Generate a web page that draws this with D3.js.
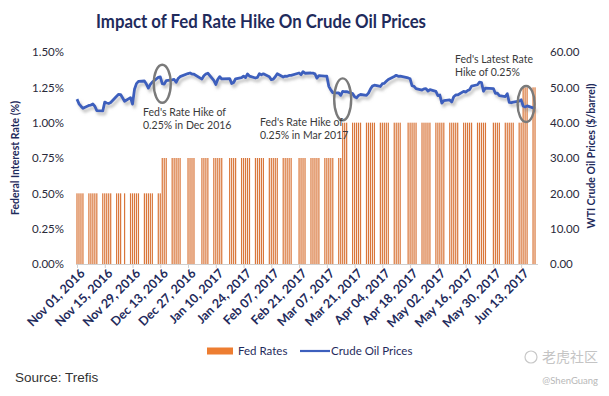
<!DOCTYPE html>
<meta charset="utf-8" />
<style>
    body {
        margin: 0;
        background: #fff;
    }

    text {
        font-family: Lato, 'Open Sans', sans-serif;
    }

    .tick-label {
        font-size: 11.5px;
        fill: #2a2a3a;
    }

    .axis-title {
        font-size: 10.5px;
        font-weight: bold;
        fill: #1f2b5c;
    }

    .date-label {
        font-size: 12.5px;
        font-weight: bold;
        fill: #1f2b5c;
    }

    .note {
        font-size: 10.5px;
        fill: #3a3a3a;
    }
</style>

<svg width="609" height="396"></svg>

<script src="https://d3js.org/d3.v7.min.js"></script>
<script>
    // trading days, Nov 2016 - Jun 2017
    const tradeDates = [
        '2016-11-01', '2016-11-02', '2016-11-03', '2016-11-04', '2016-11-07', '2016-11-08', '2016-11-09',
        '2016-11-10', '2016-11-11', '2016-11-14', '2016-11-15', '2016-11-16', '2016-11-17', '2016-11-18',
        '2016-11-21', '2016-11-22', '2016-11-23', '2016-11-25', '2016-11-28', '2016-11-29', '2016-11-30',
        '2016-12-01', '2016-12-02', '2016-12-05', '2016-12-06', '2016-12-07', '2016-12-08', '2016-12-09',
        '2016-12-12', '2016-12-13', '2016-12-14', '2016-12-15', '2016-12-16', '2016-12-19', '2016-12-20',
        '2016-12-21', '2016-12-22', '2016-12-23', '2016-12-27', '2016-12-28', '2016-12-29', '2016-12-30',
        '2017-01-03', '2017-01-04', '2017-01-05', '2017-01-06', '2017-01-09', '2017-01-10', '2017-01-11',
        '2017-01-12', '2017-01-13', '2017-01-17', '2017-01-18', '2017-01-19', '2017-01-20', '2017-01-23',
        '2017-01-24', '2017-01-25', '2017-01-26', '2017-01-27', '2017-01-30', '2017-01-31',
        '2017-02-01', '2017-02-02', '2017-02-03', '2017-02-06', '2017-02-07', '2017-02-08', '2017-02-09',
        '2017-02-10', '2017-02-13', '2017-02-14', '2017-02-15', '2017-02-16', '2017-02-17', '2017-02-21',
        '2017-02-22', '2017-02-23', '2017-02-24', '2017-02-27', '2017-02-28',
        '2017-03-01', '2017-03-02', '2017-03-03', '2017-03-06', '2017-03-07', '2017-03-08', '2017-03-09',
        '2017-03-10', '2017-03-13', '2017-03-14', '2017-03-15', '2017-03-16', '2017-03-17', '2017-03-20',
        '2017-03-21', '2017-03-22', '2017-03-23', '2017-03-24', '2017-03-27', '2017-03-28', '2017-03-29',
        '2017-03-30', '2017-03-31',
        '2017-04-03', '2017-04-04', '2017-04-05', '2017-04-06', '2017-04-07', '2017-04-10', '2017-04-11',
        '2017-04-12', '2017-04-13', '2017-04-17', '2017-04-18', '2017-04-19', '2017-04-20', '2017-04-21',
        '2017-04-24', '2017-04-25', '2017-04-26', '2017-04-27', '2017-04-28',
        '2017-05-01', '2017-05-02', '2017-05-03', '2017-05-04', '2017-05-05', '2017-05-08', '2017-05-09',
        '2017-05-10', '2017-05-11', '2017-05-12', '2017-05-15', '2017-05-16', '2017-05-17', '2017-05-18',
        '2017-05-19', '2017-05-22', '2017-05-23', '2017-05-24', '2017-05-25', '2017-05-26', '2017-05-30',
        '2017-05-31',
        '2017-06-01', '2017-06-02', '2017-06-05', '2017-06-06', '2017-06-07', '2017-06-08', '2017-06-09',
        '2017-06-12', '2017-06-13', '2017-06-14', '2017-06-15', '2017-06-16', '2017-06-19', '2017-06-20',
    ];

    // WTI crude, $/barrel
    const oilPrices = [
        46.67, 45.34, 44.66, 44.07, 44.89, 44.98, 45.27, 44.66, 43.41, 43.32, 45.81, 45.57, 45.42, 45.69,
        47.49, 48.03, 47.96, 46.06, 47.08, 45.23, 49.44,
        51.06, 51.68, 51.79, 50.93, 49.77, 50.84, 51.5, 52.83, 52.98, 51.04, 50.9, 51.9, 52.12, 52.23,
        51.44, 52.49, 53.02, 53.9, 54.06, 53.77, 53.72,
        52.33, 53.26, 53.76, 53.99, 51.96, 50.82, 52.25, 53.01, 52.37, 52.48, 51.08, 51.37, 52.42, 52.75,
        53.18, 52.75, 53.78, 53.17, 52.63, 52.81,
        53.88, 53.54, 53.83, 53.01, 52.17, 52.34, 53.0, 53.86, 52.93, 53.2, 53.11, 53.36, 53.4, 54.06,
        53.59, 54.45, 53.99, 54.05, 54.01,
        53.83, 52.61, 53.33, 53.2, 53.14, 50.28, 49.28, 48.49, 48.4, 47.72, 48.86, 48.75, 48.78, 48.22,
        47.34, 47.04, 47.7, 47.97, 47.73, 48.37, 49.51, 50.35, 50.6,
        50.24, 51.03, 51.15, 51.7, 52.24, 53.08, 53.4, 53.11, 53.18, 52.65, 52.41, 50.44, 50.27, 49.62,
        49.23, 49.56, 49.62, 48.97, 49.33,
        48.84, 47.66, 47.82, 45.52, 46.22, 46.43, 45.88, 47.33, 47.83, 47.84, 48.85, 48.66, 49.07, 49.35,
        50.33, 50.73, 51.47, 51.36, 48.9, 49.8, 49.66, 48.32,
        48.36, 47.66, 47.4, 48.19, 45.72, 45.64, 45.83, 46.08, 46.46, 44.73, 44.46, 44.74, 44.2, 43.9,
    ];

    // fed funds upper bound, %
    const fedRates = [
        0.5, 0.5, 0.5, 0.5, 0.5, 0.5, 0.5, 0.5, 0.5, 0.5, 0.5, 0.5, 0.5, 0.5, 0.5, 0.5, 0.5, 0.5, 0.5, 0.5, 0.5,
        0.5, 0.5, 0.5, 0.5, 0.5, 0.5, 0.5, 0.5, 0.5,
        0.75, 0.75, 0.75, 0.75, 0.75, 0.75, 0.75, 0.75, 0.75, 0.75, 0.75, 0.75,
        0.75, 0.75, 0.75, 0.75, 0.75, 0.75, 0.75, 0.75, 0.75, 0.75, 0.75, 0.75, 0.75, 0.75, 0.75, 0.75, 0.75,
        0.75, 0.75, 0.75,
        0.75, 0.75, 0.75, 0.75, 0.75, 0.75, 0.75, 0.75, 0.75, 0.75, 0.75, 0.75, 0.75, 0.75, 0.75, 0.75, 0.75,
        0.75, 0.75,
        0.75, 0.75, 0.75, 0.75, 0.75, 0.75, 0.75, 0.75, 0.75, 0.75,
        1, 1, 1, 1, 1, 1, 1, 1, 1, 1, 1, 1, 1,
        1, 1, 1, 1, 1, 1, 1, 1, 1, 1, 1, 1, 1, 1, 1, 1, 1, 1, 1,
        1, 1, 1, 1, 1, 1, 1, 1, 1, 1, 1, 1, 1, 1, 1, 1, 1, 1, 1, 1, 1, 1,
        1, 1, 1, 1, 1, 1, 1, 1, 1,
        1.25, 1.25, 1.25, 1.25, 1.25,
    ];

    const rateTicks = [0, 0.25, 0.5, 0.75, 1, 1.25, 1.5];
    const oilTicks = [0, 10, 20, 30, 40, 50, 60];
    const dateTicks = [
        '2016-11-01', '2016-11-15', '2016-11-29', '2016-12-13', '2016-12-27', '2017-01-10', '2017-01-24',
        '2017-02-07', '2017-02-21', '2017-03-07', '2017-03-21', '2017-04-04', '2017-04-18', '2017-05-02',
        '2017-05-16', '2017-05-30', '2017-06-13',
    ];

    // rate hike call-outs: date, oil level of ellipse centre, text
    const hikeDates = ['2016-12-14', '2017-03-15', '2017-06-14'];
    const hikeOil = [51, 46.6, 45.3];
    const hikeNotes = [
        ["Fed's Rate Hike of", '0.25% in Dec 2016'],
        ["Fed's Rate Hike of", '0.25% in Mar 2017'],
        ["Fed's Latest Rate", 'Hike of 0.25%'],
    ];

    const parse = d3.timeParse('%Y-%m-%d');
    const svg = d3.select('svg');

    const plot = { left: 76, right: 538, top: 52, bottom: 264 };
    const halfDay = 12 * 3600 * 1000;

    const x = d3
        .scaleTime()
        .domain([new Date(+parse('2016-11-01') - halfDay), new Date(+parse('2017-06-21') + halfDay)])
        .range([plot.left, plot.right]);
    const yRate = d3.scaleLinear().domain([0, 1.5]).range([plot.bottom, plot.top]);
    const yOil = d3.scaleLinear().domain([0, 60]).range([plot.bottom, plot.top]);

    const rows = tradeDates.map((d, i) => ({ date: parse(d), oil: oilPrices[i], rate: fedRates[i] || 0 }));

    const defs = svg.append('defs');
    defs.append('filter')
        .attr('id', 'shadow')
        .attr('x', '-5%')
        .attr('y', '-20%')
        .attr('width', '110%')
        .attr('height', '140%')
        .append('feDropShadow')
        .attr('dx', 2)
        .attr('dy', 3)
        .attr('stdDeviation', 1.4)
        .attr('flood-color', '#8a8a8a')
        .attr('flood-opacity', 0.55);

    // title
    svg.append('text')
        .attr('x', 261)
        .attr('y', 28)
        .attr('text-anchor', 'middle')
        .attr('textLength', 330)
        .attr('lengthAdjust', 'spacingAndGlyphs')
        .style('font-size', '19.5px')
        .style('font-weight', 'bold')
        .style('fill', '#1f2b5c')
        .text('Impact of Fed Rate Hike On Crude Oil Prices');

    // bars
    svg.append('g')
        .selectAll('rect')
        .data(rows)
        .join('rect')
        .attr('x', d => x(d.date) - 0.6)
        .attr('y', d => yRate(d.rate))
        .attr('width', 1.2)
        .attr('height', d => plot.bottom - yRate(d.rate))
        .attr('fill', '#d9763a');

    // x axis
    const xAxis = svg
        .append('g')
        .attr('transform', `translate(0,${plot.bottom})`)
        .call(
            d3
                .axisBottom(x)
                .tickValues(dateTicks.map(parse))
                .tickSize(4)
                .tickFormat(d3.timeFormat('%b %d, %Y')),
        );
    xAxis.select('.domain').attr('stroke', '#d0d0d0').attr('d', `M${plot.left},0.5H${plot.right}`);
    xAxis.selectAll('.tick line').attr('stroke', '#d0d0d0');
    xAxis.selectAll('.tick text')
        .attr('class', 'date-label')
        .attr('text-anchor', 'end')
        .attr('transform', 'translate(5,7) rotate(-45)')
        .attr('dy', '0.35em')
        .attr('y', 0)
        .attr('x', 0);

    // left axis
    const yAxisL = svg
        .append('g')
        .attr('transform', `translate(${plot.left - 9},0)`)
        .call(
            d3
                .axisLeft(yRate)
                .tickValues(rateTicks)
                .tickSize(0)
                .tickFormat(d => d.toFixed(2) + '%'),
        );
    yAxisL.select('.domain').remove();
    yAxisL.selectAll('.tick text').attr('class', 'tick-label');

    // right axis
    const yAxisR = svg
        .append('g')
        .attr('transform', `translate(${plot.right + 9},0)`)
        .call(
            d3
                .axisRight(yOil)
                .tickValues(oilTicks)
                .tickSize(0)
                .tickFormat(d => d.toFixed(2)),
        );
    yAxisR.select('.domain').remove();
    yAxisR.selectAll('.tick text').attr('class', 'tick-label');

    svg.append('text')
        .attr('class', 'axis-title')
        .attr('transform', 'translate(19,158) rotate(-90)')
        .attr('text-anchor', 'middle')
        .text('Federal Interest Rate (%)');

    svg.append('text')
        .attr('class', 'axis-title')
        .attr('transform', 'translate(595,156) rotate(-90)')
        .attr('text-anchor', 'middle')
        .text('WTI Crude Oil Prices ($/barrel)');

    // oil line
    const line = d3
        .line()
        .x(d => x(d.date))
        .y(d => yOil(d.oil));

    svg.append('path')
        .datum(rows)
        .attr('d', line)
        .attr('fill', 'none')
        .attr('stroke', '#3c5fbd')
        .attr('stroke-width', 2.8)
        .attr('stroke-linejoin', 'round')
        .attr('filter', 'url(#shadow)');

    // hike ellipses
    const ellRy = [19, 21, 18];
    svg.append('g')
        .selectAll('ellipse')
        .data(hikeDates)
        .join('ellipse')
        .attr('cx', (d, i) => x(parse(d)) + (i === 2 ? 3 : 0))
        .attr('cy', (d, i) => yOil(hikeOil[i]))
        .attr('rx', 8.5)
        .attr('ry', (d, i) => ellRy[i])
        .attr('fill', 'none')
        .attr('stroke', '#7a7a7a')
        .attr('stroke-width', 2.4);

    // notes
    const notePos = [
        [143, 112],
        [260, 122],
        [455, 59],
    ];
    hikeNotes.forEach((lines, i) => {
        const t = svg
            .append('text')
            .attr('class', 'note')
            .attr('x', notePos[i][0])
            .attr('y', notePos[i][1] + 4);
        lines.forEach((s, j) => {
            t.append('tspan')
                .attr('x', notePos[i][0])
                .attr('dy', j === 0 ? 0 : 12.5)
                .text(s);
        });
    });

    // legend
    const lg = svg.append('g').attr('transform', 'translate(207,351)');
    lg.append('rect').attr('x', 0).attr('y', -3.5).attr('width', 26).attr('height', 7).attr('fill', '#ed7d31');
    lg.append('text')
        .attr('x', 31)
        .attr('y', 0)
        .attr('dy', '0.35em')
        .style('font-size', '11.5px')
        .style('fill', '#1f2b5c')
        .text('Fed Rates');
    lg.append('line').attr('x1', 93).attr('x2', 123).attr('y1', 0).attr('y2', 0).attr('stroke', '#3c5fbd').attr('stroke-width', 2.2);
    lg.append('text')
        .attr('x', 124)
        .attr('y', 0)
        .attr('dy', '0.35em')
        .style('font-size', '11.5px')
        .style('fill', '#1f2b5c')
        .text('Crude Oil Prices');

    // source
    svg.append('text')
        .attr('x', 15)
        .attr('y', 382)
        .style('font-family', "'Liberation Sans', Arial, sans-serif")
        .style('font-size', '13.5px')
        .style('fill', '#333')
        .text('Source: Trefis');

    // watermark
    svg.append('circle').attr('cx', 531).attr('cy', 357).attr('r', 6).attr('fill', 'none').attr('stroke', '#c8c8c8').attr('stroke-width', 1.2);
    svg.append('text')
        .attr('x', 598)
        .attr('y', 362)
        .attr('text-anchor', 'end')
        .style('font-family', "'Noto Sans CJK SC', sans-serif")
        .style('font-size', '14px')
        .style('fill', '#c4c4c4')
        .text('老虎社区');
    svg.append('text')
        .attr('x', 598)
        .attr('y', 384)
        .attr('text-anchor', 'end')
        .style('font-size', '9.5px')
        .style('fill', '#b8b8b8')
        .text('@ShenGuang');
</script>
